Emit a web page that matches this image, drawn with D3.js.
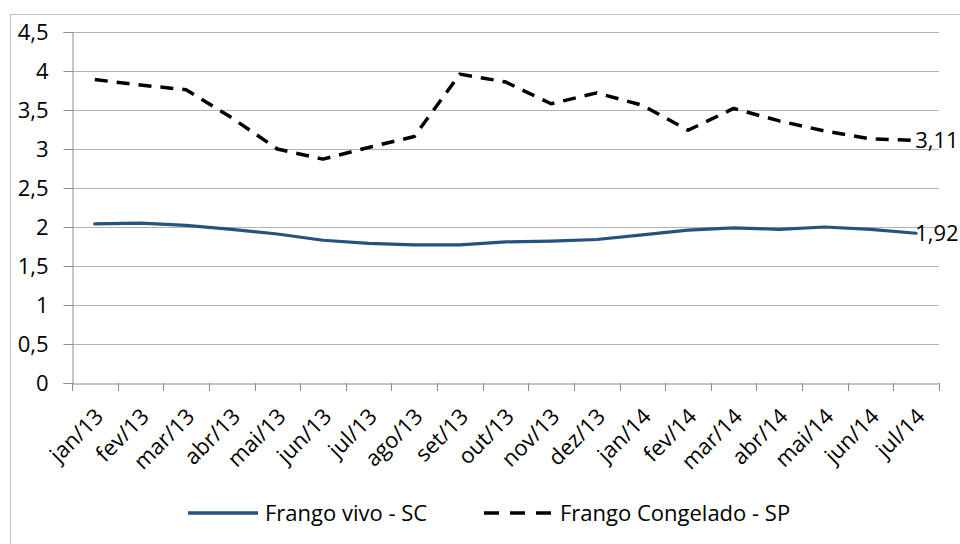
<!DOCTYPE html>
<html><head><meta charset="utf-8">
<script src="https://cdn.jsdelivr.net/npm/d3@7"></script>
<style>
html,body{margin:0;padding:0;background:#fff;}
svg{display:block;font-family:"Open Sans",sans-serif;}
</style></head>
<body>
<svg id="chart" width="960" height="544"></svg>
<script>
const categories = ["jan/13","fev/13","mar/13","abr/13","mai/13","jun/13","jul/13","ago/13","set/13","out/13","nov/13","dez/13","jan/14","fev/14","mar/14","abr/14","mai/14","jun/14","jul/14"];
const frangoVivoSC = [2.04,2.05,2.02,1.97,1.91,1.83,1.79,1.77,1.77,1.81,1.82,1.84,1.90,1.96,1.99,1.97,2.00,1.97,1.92];
const frangoCongeladoSP = [3.89,3.82,3.76,3.40,3.00,2.87,3.02,3.16,3.96,3.86,3.58,3.72,3.56,3.24,3.52,3.36,3.23,3.13,3.11];
const yTicks = [0,0.5,1,1.5,2,2.5,3,3.5,4,4.5];
const seriesNames = ["Frango vivo - SC","Frango Congelado - SP"];

const FS = 22;
const svg = d3.select("#chart");
const fmt = v => String(v).replace(".", ",");
const L = 72, R = 939, T = 32, B = 383;

// outer frame
svg.append("rect").attr("x",10.5).attr("y",14.5).attr("width",960).attr("height",540)
  .attr("fill","none").attr("stroke","#bdbdbd").attr("stroke-width",1);

const x = d3.scaleBand().domain(categories).range([L,R]).padding(0);
const y = d3.scaleLinear().domain([0,4.5]).range([B,T]);

// gridlines
svg.append("g").selectAll("line").data(yTicks.filter(d=>d>0)).join("line")
  .attr("x1",L).attr("x2",R).attr("y1",d=>Math.round(y(d))+0.5).attr("y2",d=>Math.round(y(d))+0.5)
  .attr("stroke","#b3b3b3").attr("stroke-width",1);

// y axis
const yAxis = svg.append("g").attr("transform",`translate(${L+0.5},0)`)
  .call(d3.axisLeft(y).tickValues(yTicks).tickFormat(fmt).tickSize(9).tickPadding(15));
yAxis.attr("font-size",null).attr("font-family",null);
yAxis.select(".domain").attr("stroke","#8c8c8c");
yAxis.selectAll(".tick line").attr("stroke","#8c8c8c");
yAxis.selectAll(".tick text").style("font-size",FS+"px").attr("fill","#000");

// x axis
const xAxis = svg.append("g").attr("transform",`translate(0,${B+0.5})`)
  .call(d3.axisBottom(x).tickSize(0).tickFormat(""));
xAxis.select(".domain").attr("stroke","#8c8c8c");
const bounds = categories.map(c=>x(c)).concat([R]);
svg.append("g").selectAll("line").data(bounds).join("line")
  .attr("x1",d=>Math.round(d)+0.5).attr("x2",d=>Math.round(d)+0.5)
  .attr("y1",B).attr("y2",B+8).attr("stroke","#8c8c8c");

svg.append("g").selectAll("text").data(categories).join("text")
  .attr("transform",d=>`translate(${x(d)+x.bandwidth()/2-1},${B+24}) rotate(-45)`)
  .attr("text-anchor","end").attr("dy","0.7em")
  .style("font-size",FS+"px").attr("fill","#000").text(d=>d);

const cx = d => x(d)+x.bandwidth()/2;
const line = d3.line().x((d,i)=>cx(categories[i])).y(d=>y(d)).curve(d3.curveLinear);

svg.append("path").datum(frangoVivoSC).attr("d",line)
  .attr("fill","none").attr("stroke","#24537f").attr("stroke-width",3.2)
  .attr("stroke-linecap","round").attr("stroke-linejoin","round");
svg.append("path").datum(frangoCongeladoSP).attr("d",line)
  .attr("fill","none").attr("stroke","#000").attr("stroke-width",3.5)
  .attr("stroke-linejoin","round").attr("stroke-dasharray","13,9");

// end labels
const last = categories.length-1;
svg.append("text").attr("x",cx(categories[last])-1).attr("y",y(frangoVivoSC[last])).attr("dy","0.35em")
  .style("font-size",FS+"px").text(fmt(frangoVivoSC[last]));
svg.append("text").attr("x",cx(categories[last])-1).attr("y",y(frangoCongeladoSP[last])).attr("dy","0.35em")
  .style("font-size",FS+"px").text(fmt(frangoCongeladoSP[last]));

// legend
const lg = svg.append("g");
lg.append("line").attr("x1",188).attr("x2",258).attr("y1",513).attr("y2",513)
  .attr("stroke","#24537f").attr("stroke-width",3.5);
lg.append("text").attr("x",265).attr("y",513).attr("dy","0.35em").style("font-size",FS+"px").text(seriesNames[0]);
lg.append("line").attr("x1",484).attr("x2",552).attr("y1",513).attr("y2",513)
  .attr("stroke","#000").attr("stroke-width",3.5).attr("stroke-dasharray","15,11");
lg.append("text").attr("x",560).attr("y",513).attr("dy","0.35em").style("font-size",FS+"px").text(seriesNames[1]);
</script>
</body></html>
